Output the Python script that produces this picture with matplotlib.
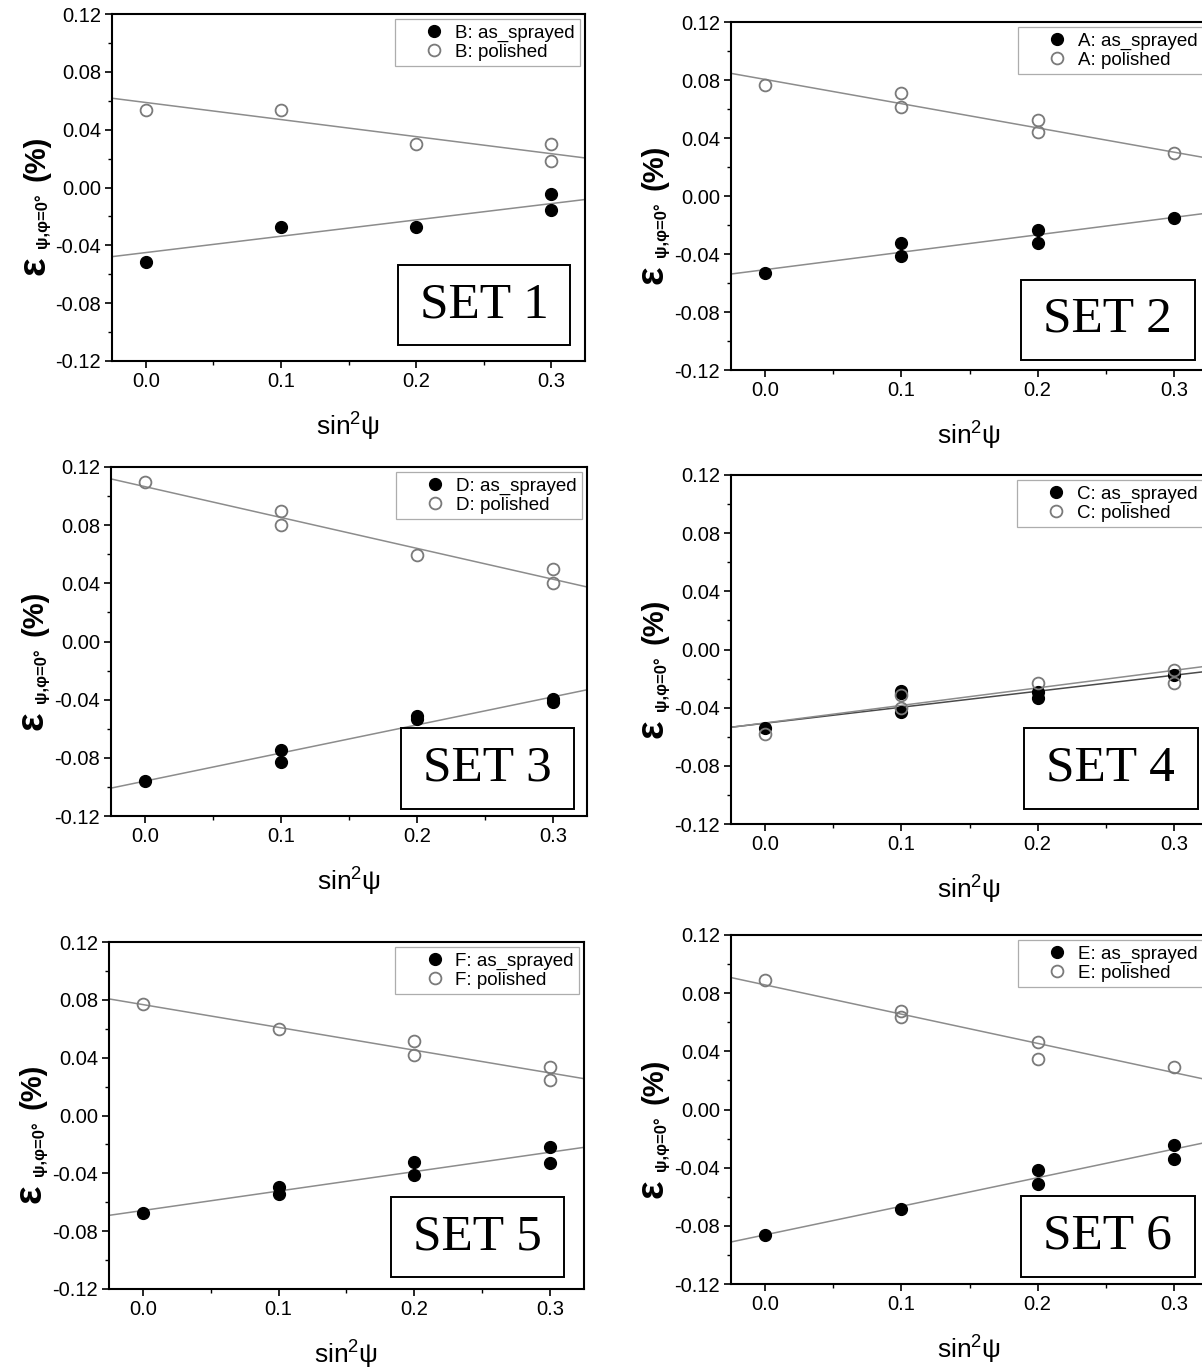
import numpy as np
import matplotlib
matplotlib.use('Agg')
import matplotlib.pyplot as plt
from matplotlib.patches import Rectangle
from matplotlib.transforms import offset_copy

plt.rcParams['font.family'] = ['Liberation Sans', 'DejaVu Sans']
plt.rcParams['mathtext.fontset'] = 'custom'
plt.rcParams['mathtext.rm'] = 'Liberation Sans'
plt.rcParams['mathtext.it'] = 'Liberation Sans:italic'
plt.rcParams['mathtext.bf'] = 'Liberation Sans:bold'
plt.rcParams['axes.unicode_minus'] = False

# ---- data (x = sin^2 psi, y = strain in %) ----
set_names = ['SET 1', 'SET 2', 'SET 3', 'SET 4', 'SET 5', 'SET 6']
samples = ['B', 'A', 'D', 'C', 'F', 'E']

x_as = [
    [0.0, 0.1, 0.2, 0.3, 0.3],
    [0.0, 0.1, 0.1, 0.2, 0.2, 0.3],
    [0.0, 0.1, 0.1, 0.2, 0.2, 0.3, 0.3],
    [0.0, 0.1, 0.1, 0.1, 0.2, 0.2, 0.3],
    [0.0, 0.1, 0.1, 0.2, 0.2, 0.3, 0.3],
    [0.0, 0.1, 0.2, 0.2, 0.3, 0.3],
]
y_as = [
    [-0.0514, -0.0273, -0.0273, -0.0048, -0.0154],
    [-0.0529, -0.0322, -0.0411, -0.0232, -0.0326, -0.0152],
    [-0.0961, -0.0744, -0.0828, -0.0515, -0.0530, -0.0392, -0.0414],
    [-0.0540, -0.0283, -0.0297, -0.0428, -0.0292, -0.0333, -0.0175],
    [-0.0676, -0.0497, -0.0540, -0.0322, -0.0412, -0.0216, -0.0327],
    [-0.0861, -0.0685, -0.0418, -0.0513, -0.0243, -0.0339],
]
x_pol = [
    [0.0, 0.1, 0.2, 0.3, 0.3],
    [0.0, 0.1, 0.1, 0.2, 0.2, 0.3],
    [0.0, 0.1, 0.1, 0.2, 0.3, 0.3],
    [0.0, 0.1, 0.1, 0.2, 0.3, 0.3],
    [0.0, 0.1, 0.2, 0.2, 0.3, 0.3],
    [0.0, 0.1, 0.1, 0.2, 0.2, 0.3],
]
y_pol = [
    [0.0533, 0.0533, 0.0303, 0.0303, 0.0181],
    [0.0763, 0.0710, 0.0614, 0.0524, 0.0439, 0.0294],
    [0.1098, 0.0897, 0.0799, 0.0597, 0.0499, 0.0400],
    [-0.0581, -0.0315, -0.0405, -0.0230, -0.0141, -0.0230],
    [0.0771, 0.0598, 0.0513, 0.0421, 0.0336, 0.0244],
    [0.0888, 0.0678, 0.0634, 0.0467, 0.0348, 0.0291],
]
# linear fits (intercept, slope)
fit_as = [(-0.0450, 0.1129), (-0.0508, 0.1202), (-0.0960, 0.1932),
          (-0.0507, 0.1100), (-0.0657, 0.1344), (-0.0862, 0.1965)]
fit_pol = [(0.0588, -0.1180), (0.0804, -0.1672), (0.1065, -0.2123),
           (-0.0505, 0.1205), (0.0767, -0.1576), (0.0857, -0.2011)]

xticks = [0.0, 0.1, 0.2, 0.3]
yticks = [-0.12, -0.08, -0.04, 0.00, 0.04, 0.08, 0.12]

# ---- layout in pixels: left, top, width, height ----
W, H = 1202, 1369
panels = [(112, 14, 473, 347), (731, 22, 477, 348),
          (111, 467, 476, 349), (731, 475, 477, 349),
          (109, 942, 475, 347), (731, 935, 477, 349)]
set_boxes = [(0.605, 0.046), (0.608, 0.029), (0.609, 0.020),
             (0.614, 0.043), (0.594, 0.035), (0.608, 0.020)]
box_w, box_h = 0.364, 0.231

fig = plt.figure(figsize=(W / 100, H / 100), dpi=100)
xlim = (-0.025, 0.325)

for i in range(6):
    l, t, w, h = panels[i]
    ax = fig.add_axes([l / W, 1 - (t + h) / H, w / W, h / H])
    ax.set_xlim(*xlim)
    ax.set_ylim(-0.12, 0.12)

    xx = np.array(xlim)
    b0, m0 = fit_as[i]
    b1, m1 = fit_pol[i]
    as_line = '#4a4a4a' if i == 3 else '#8c8c8c'
    ax.plot(xx, b0 + m0 * xx, color=as_line, lw=1.1, zorder=2)
    ax.plot(xx, b1 + m1 * xx, color='#8c8c8c', lw=1.1, zorder=2)

    ax.plot(x_as[i], y_as[i], 'o', ms=8.5, mfc='black', mec='black',
            label=samples[i] + ': as_sprayed', zorder=3)
    ax.plot(x_pol[i], y_pol[i], 'o', ms=8.5, mfc='none', mec='#7a7a7a', mew=1.3,
            label=samples[i] + ': polished', zorder=3)

    ax.set_xticks(xticks)
    ax.set_xticks([0.05, 0.15, 0.25], minor=True)
    ax.set_yticks(yticks)
    ax.set_yticks(np.arange(-0.10, 0.11, 0.04), minor=True)
    ax.set_xticklabels(['%.1f' % v for v in xticks])
    ax.set_yticklabels(['%.2f' % v for v in yticks])
    ax.tick_params(which='major', direction='out', length=5, width=1.2,
                   labelsize=14.5, pad=3)
    ax.tick_params(which='minor', direction='out', length=3, width=1.0)
    for s in ax.spines.values():
        s.set_linewidth(1.5)

    leg = ax.legend(loc='upper right', fontsize=13.5, frameon=True,
                    fancybox=False, borderpad=0.3, labelspacing=0.1,
                    handlelength=3.6, handletextpad=-0.7, borderaxespad=0.25)
    leg.get_frame().set_edgecolor('#999999')
    leg.get_frame().set_linewidth(0.9)

    bx, by = set_boxes[i]
    ax.add_patch(Rectangle((bx, by), box_w, box_h, transform=ax.transAxes,
                           facecolor='white', edgecolor='black', lw=1.4,
                           zorder=4))
    ax.text(bx + box_w / 2, by + box_h / 2, set_names[i],
            transform=ax.transAxes, ha='center', va='center',
            family='Liberation Serif', fontsize=37, zorder=5)

    ax.set_xlabel('sin$^2$ψ', fontsize=19)
    ax.xaxis.set_label_coords(0.5, -50 / h)

    # y label built from pieces (big epsilon, subscript, unit)
    pieces = [('ε', 28, -68, 86), ('ψ,φ=0°', 12, -65, 113), ('(%)', 21, -68, 180)]
    for s, fs, dx, dy in pieces:
        tr = offset_copy(ax.transAxes, fig=fig, x=dx, y=dy, units='dots')
        ax.text(0, 0, s, transform=tr, rotation=90, rotation_mode='anchor',
                ha='left', va='baseline', fontsize=fs, fontweight='bold',
                clip_on=False)

fig.savefig('out.png', dpi=100)
